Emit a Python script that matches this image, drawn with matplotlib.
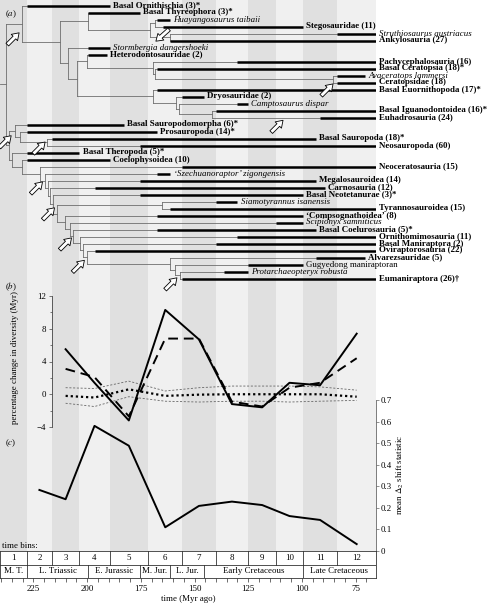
import matplotlib
matplotlib.use("Agg")
import matplotlib.pyplot as plt

plt.rcParams["font.family"] = ["Liberation Serif", "DejaVu Serif"]
plt.rcParams["mathtext.fontset"] = "stix"

# ---- time scale (Myr ago), stage boundaries used for the bins ----
BIN_EDGES = [245.0, 228.0, 216.5, 203.6, 189.6, 171.6, 155.7, 140.2, 125.0, 112.0, 99.6, 83.5, 65.5]
BIN_LABELS = ["1", "2", "3", "4", "5", "6", "7", "8", "9", "10", "11", "12"]
PERIOD_EDGES = [245.0, 228.0, 199.6, 175.6, 161.2, 145.5, 99.6, 65.5]
PERIOD_LABELS = ["M. T.", "L. Triassic", "E. Jurassic", "M. Jur.", "L. Jur.",
                 "Early Cretaceous", "Late Cretaceous"]

# ---- (a) tree: terminal taxa, top to bottom ----
TAXA = [
    "Basal Ornithischia (3)*", "Basal Thyreophora (3)*", "Huayangosaurus taibaii",
    "Stegosauridae (11)", "Struthiosaurus austriacus", "Ankylosauria (27)",
    "Stormbergia dangershoeki", "Heterodontosauridae (2)", "Pachycephalosauria (16)",
    "Basal Ceratopsia (18)*", "Avaceratops lammersi", "Ceratopsidae (18)",
    "Basal Euornithopoda (17)*", "Dryosauridae (2)", "Camptosaurus dispar",
    "Basal Iguanodontoidea (16)*", "Euhadrosauria (24)",
    "Basal Sauropodomorpha (6)*", "Prosauropoda (14)*", "Basal Sauropoda (18)*",
    "Neosauropoda (60)",
    "Basal Theropoda (5)*", "Coelophysoidea (10)", "Neoceratosauria (15)",
    "\u2018Szechuanoraptor\u2019 zigongensis", "Megalosauroidea (14)", "Carnosauria (12)",
    "Basal Neotetanurae (3)*", "Siamotyrannus isanensis", "Tyrannosauroidea (15)",
    "\u2018Compsognathoidea\u2019 (8)", "Scipionyx samniticus", "Basal Coelurosauria (5)*",
    "Ornithomimosauria (11)", "Basal Maniraptora (2)", "Oviraptorosauria (22)",
    "Alvarezsauridae (5)", "Gugyedong maniraptoran", "Protarchaeopteryx robusta",
    "Eumaniraptora (26)\u2020",
]
# b = bold clade, i = italic species, r = roman
FACE = list("bbibibibbbibbbibb" "bbbb" "bbbibbbibbibbbbbrib")
FIRST = [228.0, 199.6, 167.7, 164.7, 83.5, 161.2, 199.6, 199.6, 130.0, 167.7, 83.5, 83.5,
         167.7, 155.7, 130.0, 140.2, 91.5,
         228.0, 228.0, 216.5, 175.6,
         228.0, 228.0, 155.7, 167.7, 175.6, 196.5, 175.6, 140.2, 161.2, 167.7, 112.0,
         167.7, 130.0, 140.2, 196.5, 93.5, 125.0, 136.4, 155.7]
LAST = [189.6, 175.6, 161.2, 99.6, 65.5, 65.5, 189.6, 191.0, 65.5, 65.5, 70.6, 65.5,
        65.5, 145.5, 125.0, 65.5, 65.5,
        183.0, 167.7, 93.5, 65.5,
        203.6, 189.6, 65.5, 161.2, 93.5, 89.3, 99.6, 130.0, 65.5, 99.6, 99.6,
        93.5, 65.5, 65.5, 65.5, 70.6, 99.6, 125.0, 65.5]

# internal nodes: (age Myr, child, child); leaves are indices into TAXA
THYREOPHORA = (199.6, 1, (170.7, (168.4, 2, 3), (161.2, 4, 5)))
MARGINOCEPHALIA = (169.3, 8, (168.4, 9, (85.5, 10, 11)))
ORNITHOPODA = (169.3, 12, (158.6, 13, (157.2, 14, (141.9, 15, 16))))
ORNITHISCHIA = (230.3, 0, (212.6, THYREOPHORA,
                           (208.9, 6, (204.7, (200.1, 7, MARGINOCEPHALIA), ORNITHOPODA))))
SAUROPODOMORPHA = (233.6, 17, (231.3, 18, (218.7, 19, 20)))
MANIRAPTORA = (161.4, 36, (159.1, 37, (156.8, 38, 39)))
COELUROSAURIA = (210.3, 30, (208.0, 31, (206.6, 32, (203.3, 33, (201.9, 34,
                                                                (200.1, 35, MANIRAPTORA))))))
TETANURAE = (219.6, 24, (218.2, 25, (217.3, 26, (215.9, 27,
                                                 (214.0, (165.3, 28, 29), COELUROSAURIA)))))
THEROPODA = (235.0, 21, (230.3, 22, (221.9, 23, TETANURAE)))
DINOSAURIA = (237.8, ORNITHISCHIA, (236.4, SAUROPODOMORPHA, THEROPODA))

# white arrows: head position (Myr, row)
ARROW_HEADS = [(235.4, 18.6), (231.7, 3.9), (85.5, 11.2), (108.8, 16.4), (219.6, 19.5),
               (220.8, 25.2), (215.2, 28.9), (207.3, 33.2), (201.3, 36.4), (158.2, 38.9)]
ARROW_HEADS_SW = [(168.0, 5.1)]

# ---- (b) percentage change in diversity, bins 3-12 ----
B_BINS = [3, 4, 5, 6, 7, 8, 9, 10, 11, 12]
B_OBSERVED = [5.5, 1.4, -3.2, 10.3, 6.7, -1.2, -1.6, 1.4, 1.1, 7.4]
B_CORRECTED = [3.1, 2.1, -2.7, 6.8, 6.8, -0.9, -1.5, 0.8, 1.4, 4.4]
B_NULL_MEAN = [-0.2, -0.4, 0.6, -0.2, -0.05, 0.0, 0.0, 0.0, 0.0, -0.3]
B_NULL_HI = [0.8, 0.7, 1.6, 0.4, 0.8, 1.0, 1.0, 1.0, 0.9, 0.5]
B_NULL_LO = [-1.1, -1.5, -0.3, -0.85, -0.95, -0.85, -0.85, -0.95, -0.85, -0.75]

# ---- (c) mean delta2 shift statistic, bins 2-12 ----
C_BINS = [2, 3, 4, 5, 6, 7, 8, 9, 10, 11, 12]
C_DELTA2 = [0.283, 0.24, 0.58, 0.488, 0.11, 0.209, 0.229, 0.213, 0.162, 0.144, 0.032]

XLIM = (240.6, 65.5)
W, H = 490, 607
DARK, LIGHT = "#e0e0e0", "#f0f0f0"
THIN = "#6e6e6e"
FS = 6.4


def fig_rect(x0, y0, x1, y1):
    """pixel box (top-left origin) -> figure fraction rect"""
    return [x0 / W, 1 - y1 / H, (x1 - x0) / W, (y1 - y0) / H]


def draw_clade(ax, node):
    if isinstance(node, int):
        ax.plot([FIRST[node], LAST[node]], [node, node], color="black", lw=1.8,
                solid_capstyle="butt")
        kw = {"b": dict(fontweight="bold"), "i": dict(fontstyle="italic"), "r": {}}[FACE[node]]
        ax.annotate(TAXA[node], (LAST[node], node), xytext=(2.2, 0),
                    textcoords="offset points", ha="left", va="center",
                    fontsize=FS, annotation_clip=False, **kw)
        return node
    age, *children = node
    rows = []
    for child in children:
        row = draw_clade(ax, child)
        start = child[0] if isinstance(child, tuple) else FIRST[child]
        ax.plot([age, start], [row, row], color=THIN, lw=0.6, zorder=1)
        rows.append(row)
    ax.plot([age, age], [min(rows), max(rows)], color=THIN, lw=0.6, zorder=1)
    return (min(rows) + max(rows)) / 2


def main():
    fig = plt.figure(figsize=(W / 100, H / 100), dpi=100)
    mids = [(a + b) / 2 for a, b in zip(BIN_EDGES[:-1], BIN_EDGES[1:])]

    # background bands
    ax_bg = fig.add_axes(fig_rect(0, 0, 376, 551))
    for i, (a, b) in enumerate(zip(BIN_EDGES[:-1], BIN_EDGES[1:])):
        ax_bg.axvspan(a, b, color=DARK if i % 2 == 0 else LIGHT, lw=0)
    ax_bg.set_xlim(XLIM)
    ax_bg.axis("off")

    # (a) tree
    ax_a = fig.add_axes(fig_rect(0, 0, 376, 290), facecolor="none")
    ax_a.set_xlim(XLIM)
    ax_a.set_ylim((290 - 5.5) / 7, -5.5 / 7)
    ax_a.axis("off")
    root_row = draw_clade(ax_a, DINOSAURIA)
    ax_a.plot([XLIM[0], DINOSAURIA[0]], [root_row, root_row], color=THIN, lw=0.6)
    arrow = dict(arrowstyle="simple,head_length=0.6,head_width=0.8,tail_width=0.34",
                 mutation_scale=8, fc="white", ec="black", lw=0.6, shrinkA=0, shrinkB=0)
    for head in ARROW_HEADS:
        ax_a.annotate("", xy=head, xytext=(-8.5, -8.5), textcoords="offset points",
                      arrowprops=arrow, annotation_clip=False, zorder=5)
    for head in ARROW_HEADS_SW:
        ax_a.annotate("", xy=head, xytext=(9.5, 8.5), textcoords="offset points",
                      arrowprops=arrow, annotation_clip=False, zorder=5)

    # (b)
    ax_b = fig.add_axes(fig_rect(0, 296, 376, 427), facecolor="none")
    xb = [mids[b - 1] for b in B_BINS]
    ax_b.plot(xb, B_NULL_HI, color="#666666", lw=0.6, ls=(0, (2.5, 2)))
    ax_b.plot(xb, B_NULL_LO, color="#666666", lw=0.6, ls=(0, (2.5, 2)))
    ax_b.plot(xb, B_NULL_MEAN, color="black", lw=1.6, ls=(0, (1, 1.3)))
    ax_b.plot(xb, B_CORRECTED, color="black", lw=1.4, ls=(0, (5, 3)))
    ax_b.plot(xb, B_OBSERVED, color="black", lw=1.4)
    ax_b.set_xlim(XLIM)
    ax_b.set_ylim(-4, 12)
    for s in ("top", "right", "bottom"):
        ax_b.spines[s].set_visible(False)
    ax_b.spines["left"].set_position(("data", BIN_EDGES[2]))
    ax_b.spines["left"].set_linewidth(0.6)
    ax_b.spines["left"].set_color("#444444")
    ax_b.set_xticks([])
    ax_b.set_yticks([-4, 0, 4, 8, 12])
    ax_b.set_yticks([-2, 2, 6, 10], minor=True)
    ax_b.tick_params(axis="y", which="major", length=2.5, width=0.5, labelsize=FS, pad=1.5,
                     color="#444444")
    ax_b.tick_params(axis="y", which="minor", length=1.5, width=0.5, color="#444444")

    # (c)
    ax_c = fig.add_axes(fig_rect(0, 400, 376, 551), facecolor="none")
    ax_c.plot([mids[b - 1] for b in C_BINS], C_DELTA2, color="black", lw=1.4)
    ax_c.set_xlim(XLIM)
    ax_c.set_ylim(0, 0.7)
    for s in ("top", "left", "bottom"):
        ax_c.spines[s].set_visible(False)
    ax_c.spines["right"].set_linewidth(0.6)
    ax_c.spines["right"].set_color("#666666")
    ax_c.set_xticks([])
    ax_c.yaxis.tick_right()
    ticks = [0, 0.1, 0.2, 0.3, 0.4, 0.5, 0.6, 0.7]
    ax_c.set_yticks(ticks, ["0"] + [f"{t:.1f}" for t in ticks[1:]])
    ax_c.tick_params(axis="y", length=2, width=0.5, labelsize=FS, pad=1.5, color="#666666")

    # time-bin table + time axis
    ax_t = fig.add_axes(fig_rect(0, 551, 376, 578), facecolor="white")
    ax_t.set_xlim(XLIM)
    ax_t.set_ylim(0, 2)
    for s in ax_t.spines.values():
        s.set_linewidth(0.6)
        s.set_color("#333333")
    ax_t.axhline(1, color="#333333", lw=0.6)
    for e in BIN_EDGES[1:-1]:
        ax_t.plot([e, e], [1, 2], color="#333333", lw=0.6)
    for e in PERIOD_EDGES[1:-1]:
        ax_t.plot([e, e], [0, 1], color="#333333", lw=0.6)
    for lab, a, b in zip(BIN_LABELS, BIN_EDGES[:-1], BIN_EDGES[1:]):
        a = min(a, XLIM[0])
        ax_t.text((a + b) / 2, 1.5, lab, ha="center", va="center", fontsize=FS)
    for lab, a, b in zip(PERIOD_LABELS, PERIOD_EDGES[:-1], PERIOD_EDGES[1:]):
        a = min(a, XLIM[0])
        ax_t.text((a + b) / 2, 0.5, lab, ha="center", va="center", fontsize=FS)
    ax_t.set_yticks([])
    ax_t.set_xticks([225, 200, 175, 150, 125, 100, 75])
    ax_t.set_xticks(list(range(240, 65, -5)), minor=True)
    ax_t.tick_params(axis="x", which="both", length=3, width=0.5, labelsize=FS, pad=2,
                     color="#333333")
    ax_t.set_xlabel("time (Myr ago)", fontsize=FS, labelpad=1.5)

    fig.text(11 / W, 1 - 14.5 / H, r"($\mathit{a}$)", ha="center", va="center", fontsize=FS)
    fig.text(11 / W, 1 - 287 / H, r"($\mathit{b}$)", ha="center", va="center", fontsize=FS)
    fig.text(11 / W, 1 - 443.5 / H, r"($\mathit{c}$)", ha="center", va="center", fontsize=FS)
    fig.text(2 / W, 1 - 546 / H, "time bins:", ha="left", va="center", fontsize=FS)
    fig.text(15 / W, 1 - 358 / H, "percentage change in diversity (Myr)", rotation=90,
             ha="center", va="center", fontsize=FS)
    fig.text(400 / W, 1 - 475 / H, r"mean $\Delta_2$ shift statistic", rotation=90,
             ha="center", va="center", fontsize=FS)

    fig.savefig("out.png", dpi=100)
    plt.close(fig)


if __name__ == "__main__":
    main()
